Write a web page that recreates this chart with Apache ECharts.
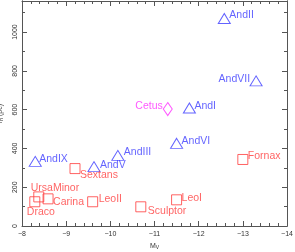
<!DOCTYPE html>
<html><head><meta charset="utf-8">
<script src="https://cdn.jsdelivr.net/npm/echarts@6/dist/echarts.min.js"></script>
<style>html,body{margin:0;padding:0;background:#fff}#c{width:295px;height:252px}</style>
</head><body><div id="c"></div>
<script>
// Data
const dSphNames = ['Fornax','Sextans','UrsaMinor','Carina','Draco','LeoII','Sculptor','LeoI'];
const dSphMV    = [-13.0, -9.2, -8.38, -8.59, -8.29, -9.6, -10.69, -11.5];
const dSphRh    = [343, 296, 150, 140, 125, 125, 99, 135];

const andNames = ['AndII','AndVII','AndI','AndVI','AndIII','AndV','AndIX'];
const andMV    = [-12.58, -13.3, -11.79, -11.5, -10.17, -9.63, -8.3];
const andRh    = [1070, 748, 608, 426, 364, 306, 333];

const cetusNames = ['Cetus'];
const cetusMV    = [-11.3];
const cetusRh    = [603];

const xTicks = [-8, -9, -10, -11, -12, -13, -14];
const yTicks = [0, 200, 400, 600, 800, 1000];

// label placement (offset from marker centre)
const labelPlace = {
  AndII:['left',5,-3], AndVII:['right',-6,-2], AndI:['left',5,-2], AndVI:['left',5,-2],
  AndIII:['left',6,-3], AndV:['left',6,-2], AndIX:['left',4,-2],
  Cetus:['right',-5,-3],
  Fornax:['left',5,-3], Sextans:['left',5,7], UrsaMinor:['left',-8,-9], Carina:['left',5,3],
  Draco:['left',-8,10], LeoII:['left',6,-3], Sculptor:['left',7,4], LeoI:['left',5,-2]
};
const FONT = 'Liberation Sans, Arial, sans-serif';

function build(names, xs, ys, color){
  return names.map((n,i)=>{
    const p = labelPlace[n];
    return {value:[xs[i], ys[i]], name:n,
      label:{show:true, position:'inside', align:p[0], verticalAlign:'middle', offset:[p[1],p[2]],
        formatter:n, color:color, fontSize:10.5, fontFamily:FONT}};
  });
}
const RED='#ff3c3c', BLUE='#3c3cff', MAG='#ff30ff';
const fmt = v => (yTicks.indexOf(v) >= 0 ? String(v) : '');
const xfmt = v => (xTicks.indexOf(v) >= 0 ? (v < 0 ? '\u2212' + Math.abs(v) : String(v)) : '');
const axisCol = '#555';
const lblStyle = {color:'#333', fontSize:7, fontFamily:FONT};
const nameRich = {
  m:{fontSize:7, color:'#333', fontFamily:FONT},
  s:{fontSize:5, color:'#333', fontFamily:FONT, verticalAlign:'bottom', padding:[3,0,0,0]}
};

const chart = echarts.init(document.getElementById('c'), null, {renderer:'canvas'});
const YMAX = 1160;
const xBase = {type:'value', min:-14, max:-8, interval:1, inverse:true, splitLine:{show:false},
  axisLine:{show:true, onZero:false, lineStyle:{color:axisCol, width:1}}};
const yBase = {type:'value', min:0, max:YMAX, splitLine:{show:false},
  axisLine:{show:true, onZero:false, lineStyle:{color:axisCol, width:1}}};
chart.setOption({
  animation:false,
  grid:{left:22, right:8, top:1, bottom:26, containLabel:false, outerBoundsMode:'none'},
  xAxis:[
    Object.assign({}, xBase, {position:'bottom', name:'{m|M}{s|V}', nameLocation:'middle', nameGap:16,
      nameTextStyle:{color:'#333', fontSize:7, fontFamily:FONT, rich:nameRich},
      axisTick:{inside:true, length:5, lineStyle:{color:axisCol}},
      minorTick:{show:true, splitNumber:5, length:3, lineStyle:{color:axisCol}},
      axisLabel:Object.assign({margin:5, formatter:xfmt}, lblStyle)}),
    Object.assign({}, xBase, {position:'top',
      axisTick:{inside:true, length:5, lineStyle:{color:axisCol}},
      minorTick:{show:true, splitNumber:5, length:3, lineStyle:{color:axisCol}},
      axisLabel:{show:false}})
  ],
  yAxis:[
    Object.assign({}, yBase, {position:'left', interval:200, name:'{m|r}{s|h}{m| (pc)}', nameLocation:'middle', nameGap:15,
      nameTextStyle:{color:'#333', fontSize:7, fontFamily:FONT, rich:nameRich},
      axisTick:{inside:true, length:5, lineStyle:{color:axisCol}},
      axisLabel:Object.assign({margin:3, rotate:90, formatter:fmt}, lblStyle)}),
    Object.assign({}, yBase, {position:'left', interval:100, offset:0,
      axisTick:{inside:true, length:3, lineStyle:{color:axisCol}}, axisLabel:{show:false}}),
    Object.assign({}, yBase, {position:'right', interval:200, offset:0,
      axisTick:{inside:true, length:5, lineStyle:{color:axisCol}}, axisLabel:{show:false}}),
    Object.assign({}, yBase, {position:'right', interval:100, offset:0,
      axisTick:{inside:true, length:3, lineStyle:{color:axisCol}}, axisLabel:{show:false}})
  ],
  series:[
    {type:'scatter', symbol:'rect', symbolSize:10, data:build(dSphNames,dSphMV,dSphRh,RED),
      itemStyle:{color:'rgba(0,0,0,0)', borderColor:RED, borderWidth:1}},
    {type:'scatter', symbol:'triangle', symbolSize:[12,10], data:build(andNames,andMV,andRh,BLUE),
      itemStyle:{color:'rgba(0,0,0,0)', borderColor:BLUE, borderWidth:1}},
    {type:'scatter', symbol:'diamond', symbolSize:[9,13], data:build(cetusNames,cetusMV,cetusRh,MAG),
      itemStyle:{color:'rgba(0,0,0,0)', borderColor:MAG, borderWidth:1}}
  ]
});
</script></body></html>
